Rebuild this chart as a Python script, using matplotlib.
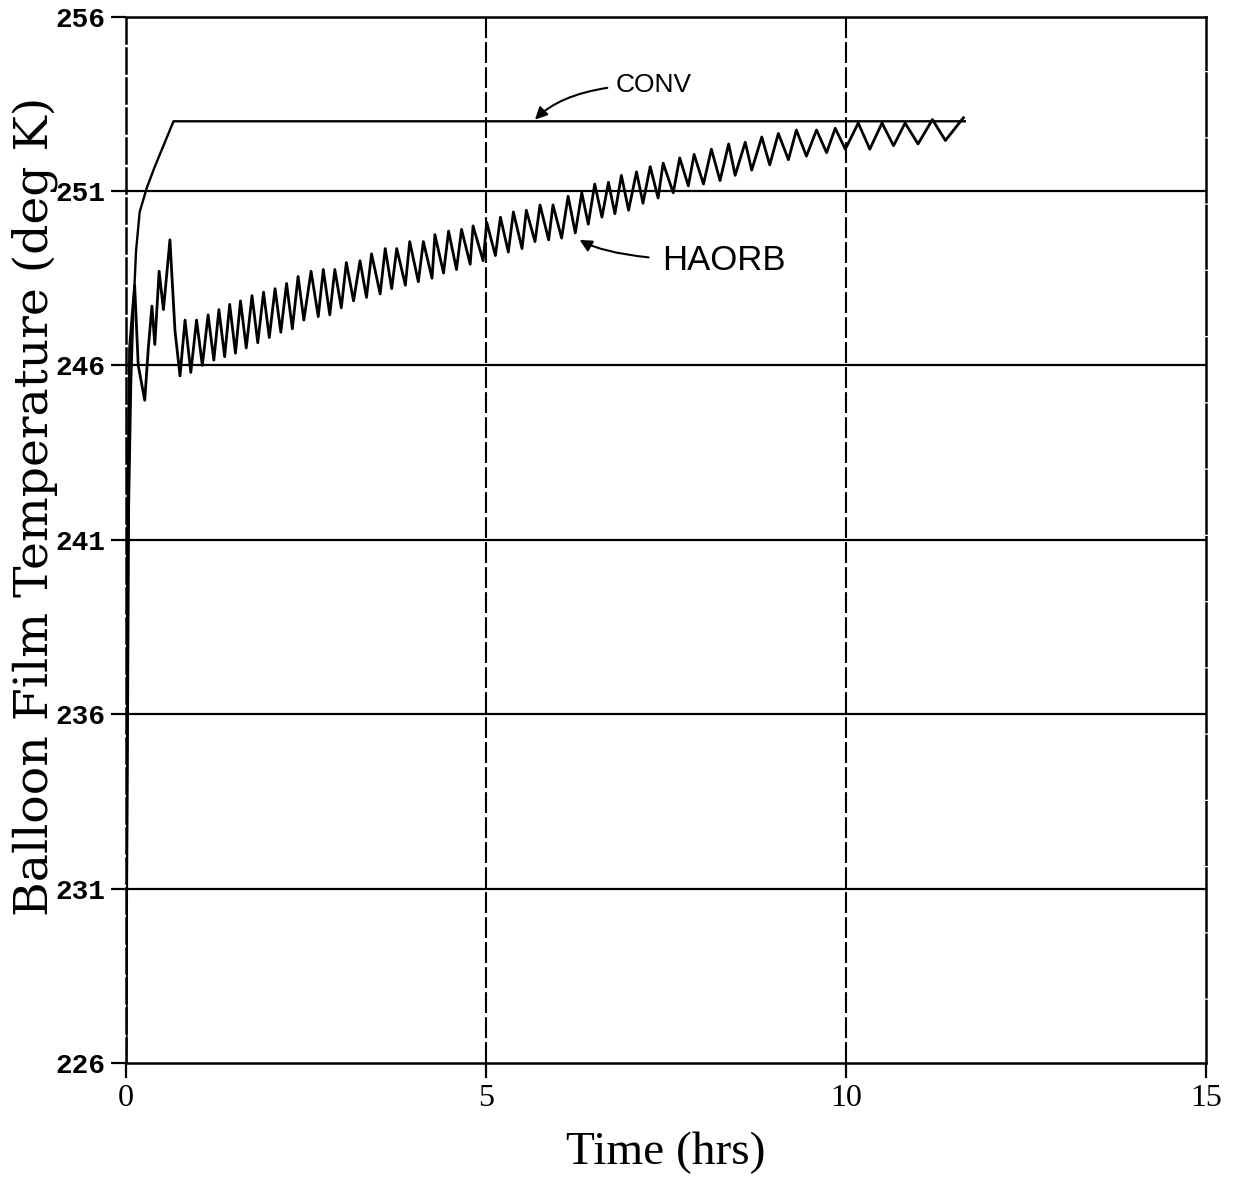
import matplotlib
matplotlib.use("Agg")
import matplotlib.pyplot as plt

# CONV model: fast rise then flat
conv_time = [0.0, 0.04, 0.07, 0.10, 0.14, 0.19, 0.29, 0.40, 0.52, 0.66, 11.65]
conv_temp = [226.0, 242.0, 245.5, 247.5, 249.3, 250.4, 251.1, 251.7, 252.3, 253.0, 253.0]

# HAORB model: peaks / troughs
haorb_time = [
    0.00, 0.02, 0.05, 0.08, 0.12, 0.17, 0.26, 0.31, 0.36, 0.40, 0.46, 0.52,
    0.61, 0.68, 0.75, 0.82, 0.90, 0.98, 1.06, 1.14, 1.22, 1.29, 1.37, 1.44,
    1.52, 1.59, 1.67, 1.75, 1.83, 1.91, 1.99, 2.07, 2.15, 2.23, 2.31, 2.39,
    2.47, 2.57, 2.67, 2.74, 2.83, 2.90, 2.99, 3.06, 3.16, 3.25, 3.34, 3.41,
    3.53, 3.60, 3.69, 3.76, 3.88, 3.94, 4.06, 4.13, 4.25, 4.29, 4.41, 4.48,
    4.59, 4.66, 4.78, 4.82, 4.96, 5.01, 5.13, 5.20, 5.31, 5.38, 5.50, 5.56,
    5.68, 5.75, 5.87, 5.93, 6.05, 6.14, 6.24, 6.33, 6.42, 6.51, 6.61, 6.70,
    6.79, 6.88, 6.98, 7.09, 7.18, 7.28, 7.39, 7.46, 7.60, 7.69, 7.81, 7.89,
    8.02, 8.13, 8.25, 8.37, 8.46, 8.60, 8.69, 8.83, 8.94, 9.06, 9.20, 9.31,
    9.45, 9.59, 9.73, 9.85, 9.99, 10.17, 10.33, 10.50, 10.66, 10.82, 11.00,
    11.20, 11.38, 11.63,
]
haorb_temp = [
    226.0, 241.0, 246.5, 247.3, 248.3, 246.0, 245.0, 246.5, 247.7, 246.6, 248.7, 247.6,
    249.6, 247.0, 245.7, 247.3, 245.8, 247.3, 246.0, 247.45, 246.15, 247.6, 246.25, 247.75,
    246.35, 247.85, 246.5, 248.0, 246.65, 248.1, 246.8, 248.2, 246.95, 248.35, 247.05, 248.55,
    247.3, 248.7, 247.4, 248.75, 247.45, 248.75, 247.65, 248.95, 247.85, 249.0, 247.95, 249.2,
    248.05, 249.35, 248.2, 249.35, 248.3, 249.55, 248.4, 249.55, 248.5, 249.75, 248.65, 249.85,
    248.75, 249.9, 248.9, 250.0, 249.0, 250.1, 249.15, 250.25, 249.25, 250.4, 249.35, 250.45,
    249.55, 250.6, 249.6, 250.6, 249.65, 250.85, 249.8, 250.95, 250.05, 251.2, 250.25, 251.25,
    250.35, 251.45, 250.45, 251.55, 250.65, 251.7, 250.8, 251.8, 250.95, 251.95, 251.15, 252.05,
    251.2, 252.2, 251.3, 252.35, 251.45, 252.4, 251.6, 252.55, 251.75, 252.65, 251.9, 252.75,
    252.0, 252.75, 252.1, 252.8, 252.2, 252.95, 252.2, 252.95, 252.3, 252.95, 252.35,
    253.05, 252.45, 253.1,
]

x_ticks = [0, 5, 10, 15]
y_ticks = [226, 231, 236, 241, 246, 251, 256]

fig = plt.figure(figsize=(12.39, 11.89), dpi=100)
ax = fig.add_axes([0.1017, 0.106, 0.8717, 0.880])

# grid: solid horizontals, dashed verticals
for yv in y_ticks[1:-1]:
    ax.axhline(yv, color='black', lw=1.6, zorder=1)
for xv in x_ticks[1:-1]:
    ax.axvline(xv, color='black', lw=1.5, ls=(0, (10, 2)), zorder=1)

ax.plot(conv_time, conv_temp, color='black', lw=1.7, zorder=3)
ax.plot(haorb_time, haorb_temp, color='black', lw=2.0, zorder=3)

ax.set_xlim(0, 15)
ax.set_ylim(226, 256)
ax.set_xticks(x_ticks)
ax.set_yticks(y_ticks)
ax.set_xticklabels([str(v) for v in x_ticks], family='Liberation Serif', fontsize=23)
ax.set_yticklabels([str(v) for v in y_ticks], family='Liberation Mono', fontsize=20,
                   fontweight='bold')
ax.tick_params(direction='out', length=11, width=1.6, pad=4)

for side in ['top', 'bottom']:
    ax.spines[side].set_linewidth(1.8)
ax.spines['left'].set_linewidth(1.8)
ax.spines['left'].set_linestyle((0, (10, 2)))
ax.spines['right'].set_linewidth(1.8)
ax.spines['right'].set_linestyle((0, (25, 1.5)))

ax.set_xlabel('Time (hrs)', family='Liberation Serif', fontsize=34)
ax.xaxis.set_label_coords(0.5, -0.066)
ax.set_ylabel('Balloon Film Temperature (deg K)', family='DejaVu Serif', fontsize=34)
ax.yaxis.set_label_coords(-0.063, 0.532)

# handwritten labels
ax.annotate('CONV', xy=(5.68, 253.05), xytext=(6.8, 254.05),
            family='Liberation Sans', fontsize=19, va='center', ha='left',
            arrowprops=dict(arrowstyle='-|>', color='black', lw=1.5,
                            shrinkA=4, shrinkB=0, mutation_scale=18,
                            connectionstyle='angle3,angleA=0,angleB=45'))
ax.annotate('HAORB', xy=(6.3, 249.6), xytext=(7.45, 249.0),
            family='Liberation Sans', fontsize=25, va='center', ha='left',
            arrowprops=dict(arrowstyle='-|>', color='black', lw=1.5,
                            shrinkA=8, shrinkB=0, mutation_scale=18,
                            connectionstyle='angle3,angleA=0,angleB=-30'))

fig.savefig('out.png', dpi=100, facecolor='white')
